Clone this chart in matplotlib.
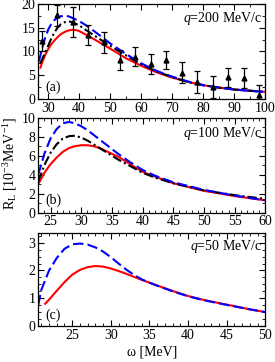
import matplotlib
matplotlib.use("Agg")
import matplotlib.pyplot as plt
from matplotlib.ticker import MultipleLocator

plt.rcParams['font.family'] = ['Liberation Serif', 'DejaVu Serif']
plt.rcParams['mathtext.fontset'] = 'custom'
plt.rcParams['mathtext.rm'] = 'Liberation Serif'
plt.rcParams['mathtext.it'] = 'Liberation Serif:italic'

# panel (a): q = 200 MeV/c
wA_red = [27.5, 28, 29, 30, 31, 32, 33, 34, 35, 36, 37, 38, 39, 40, 42, 45, 50, 55, 60, 65, 70, 75, 80, 85, 90, 95, 100]
rA_red = [6.6, 7.6, 9.2, 10.5, 11.5, 12.3, 13.0, 13.6, 14.0, 14.3, 14.5, 14.55, 14.5, 14.3, 13.6, 12.5, 10.6, 8.6, 7.0, 5.6, 4.5, 3.6, 2.9, 2.4, 2.0, 1.75, 1.5]
wA_blue = [27, 28, 29, 30, 31, 32, 33, 34, 35, 36, 37, 38, 40, 42, 45, 50, 55, 60, 65, 70, 75, 80, 85, 90, 95, 100]
rA_blue = [7.9, 10.5, 12.8, 14.6, 15.8, 16.6, 17.1, 17.4, 17.5, 17.5, 17.3, 17.0, 16.4, 15.6, 14.2, 11.7, 9.5, 7.5, 5.9, 4.7, 3.7, 2.9, 2.4, 2.0, 1.7, 1.5]
wA_black = [27.5, 28, 29, 30, 31, 32, 33, 34, 35, 36, 37, 38, 40, 42, 45, 50, 55, 60, 65, 70, 75, 80, 85, 90, 95, 100]
rA_black = [7.5, 8.3, 9.7, 11.2, 12.7, 14.0, 15.0, 15.7, 16.1, 16.3, 16.3, 16.1, 15.5, 14.6, 13.3, 11.2, 9.2, 7.3, 5.8, 4.6, 3.6, 2.9, 2.4, 2.0, 1.75, 1.5]
wA_exp = [28, 33, 38, 43, 48, 53, 58, 63, 68, 73, 78, 83, 88, 93, 98]
rA_exp = [12.2, 17.6, 16.2, 13.5, 11.9, 8.2, 8.9, 7.4, 8.2, 5.5, 3.5, 2.5, 4.6, 4.4, 0.8]
eA_exp = [2.2, 2.2, 3.2, 2.1, 2.2, 2.1, 2.0, 2.1, 1.9, 2.2, 2.3, 2.3, 2.0, 2.1, 2.1]

# panel (b): q = 100 MeV/c
wB = [23, 24, 25, 26, 27, 28, 29, 30, 31, 32, 33, 34, 35, 36, 38, 40, 42, 45, 50, 55, 60]
rB_red = [3.0, 4.2, 5.1, 5.8, 6.4, 6.8, 7.0, 7.1, 7.1, 7.0, 6.8, 6.5, 6.2, 5.9, 5.1, 4.3, 3.8, 3.1, 2.3, 1.75, 1.3]
rB_blue = [4.0, 6.2, 7.8, 8.8, 9.4, 9.55, 9.4, 9.1, 8.7, 8.2, 7.7, 7.2, 6.7, 6.2, 5.3, 4.5, 3.9, 3.2, 2.4, 1.8, 1.3]
rB_black = [3.3, 5.0, 6.3, 7.2, 7.8, 8.05, 8.1, 7.9, 7.6, 7.2, 6.8, 6.4, 6.0, 5.6, 4.9, 4.2, 3.7, 3.1, 2.35, 1.85, 1.45]

# panel (c): q = 50 MeV/c
wC_red = [21.5, 22, 23, 24, 25, 26, 27, 28, 29, 30, 31, 32, 33, 34, 35, 36, 38, 40, 42, 45, 48, 50]
rC_red = [0.8, 0.95, 1.27, 1.58, 1.85, 2.02, 2.12, 2.16, 2.14, 2.07, 1.98, 1.88, 1.77, 1.66, 1.56, 1.46, 1.26, 1.08, 0.94, 0.77, 0.6, 0.5]
wC_blue = [20.6, 21, 22, 23, 24, 25, 26, 27, 28, 29, 30, 31, 32, 33, 34, 35, 36, 38, 40, 42, 45, 48, 50]
rC_blue = [0.75, 1.3, 2.0, 2.45, 2.78, 2.94, 2.97, 2.93, 2.83, 2.68, 2.48, 2.25, 2.03, 1.84, 1.68, 1.56, 1.45, 1.25, 1.07, 0.93, 0.76, 0.6, 0.5]

fig = plt.figure(figsize=(2.75, 3.62), dpi=100)
L, W = 0.139, 0.826
axA = fig.add_axes([L, 0.7265, W, 0.2625])
axB = fig.add_axes([L, 0.4124, W, 0.2626])
axC = fig.add_axes([L, 0.0994, W, 0.257])

lw = 1.5
dash = (5, 2)
dashdot = (4.5, 1.5, 1, 1.5)
axA.plot(wA_red, rA_red, color='#ff0000', lw=lw)
axA.plot(wA_black, rA_black, color='black', lw=lw, dashes=dashdot)
axA.plot(wA_blue, rA_blue, color='#0000ff', lw=lw, dashes=dash)
axA.errorbar(wA_exp, rA_exp, yerr=eA_exp, fmt='^', color='black', ms=3.5,
             elinewidth=0.9, capsize=2.5, capthick=0.9)

axB.plot(wB, rB_red, color='#ff0000', lw=lw)
axB.plot(wB, rB_black, color='black', lw=lw, dashes=dashdot)
axB.plot(wB, rB_blue, color='#0000ff', lw=lw, dashes=dash)

axC.plot(wC_red, rC_red, color='#ff0000', lw=lw)
axC.plot(wC_blue, rC_blue, color='#0000ff', lw=lw, dashes=dash)

axA.set_xlim(26.8, 100); axA.set_ylim(0, 20)
axB.set_xlim(23, 60); axB.set_ylim(0, 10)
axC.set_xlim(20.6, 50); axC.set_ylim(0, 3.35)

axA.xaxis.set_major_locator(MultipleLocator(10)); axA.xaxis.set_minor_locator(MultipleLocator(5))
axA.yaxis.set_major_locator(MultipleLocator(5)); axA.yaxis.set_minor_locator(MultipleLocator(2.5))
axB.xaxis.set_major_locator(MultipleLocator(5)); axB.xaxis.set_minor_locator(MultipleLocator(1))
axB.yaxis.set_major_locator(MultipleLocator(2)); axB.yaxis.set_minor_locator(MultipleLocator(1))
axC.xaxis.set_major_locator(MultipleLocator(5)); axC.xaxis.set_minor_locator(MultipleLocator(1))
axC.yaxis.set_major_locator(MultipleLocator(1)); axC.yaxis.set_minor_locator(MultipleLocator(0.25))

for ax in (axA, axB, axC):
    ax.tick_params(which='both', direction='in', top=True, right=True, labelsize=10, pad=2)
    ax.tick_params(which='major', length=4, width=0.8)
    ax.tick_params(which='minor', length=2, width=0.6)
    for s in ax.spines.values():
        s.set_linewidth(0.9)

axA.text(0.985, 0.85, r'$q$=200 MeV/c', transform=axA.transAxes, ha='right', va='center', fontsize=10)
axB.text(0.985, 0.835, r'$q$=100 MeV/c', transform=axB.transAxes, ha='right', va='center', fontsize=10)
axC.text(0.985, 0.85, r'$q$=50 MeV/c', transform=axC.transAxes, ha='right', va='center', fontsize=10)
axA.text(0.03, 0.125, '(a)', transform=axA.transAxes, ha='left', va='center', fontsize=10)
axB.text(0.03, 0.133, '(b)', transform=axB.transAxes, ha='left', va='center', fontsize=10)
axC.text(0.03, 0.118, '(c)', transform=axC.transAxes, ha='left', va='center', fontsize=10)

fig.text(10 / 275, 1 - 163 / 362, r'R$_{\rm L}$ [10$^{-3}$MeV$^{-1}$]', rotation=90,
         ha='center', va='center', fontsize=10)
fig.text(152 / 275, 1 - 352 / 362, 'ω [MeV]', ha='center', va='center', fontsize=10)

fig.savefig('out.png', dpi=100)
